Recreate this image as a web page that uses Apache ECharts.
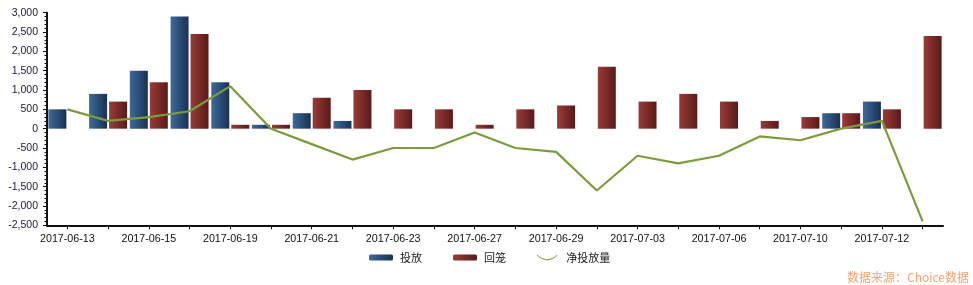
<!DOCTYPE html>
<html>
<head>
<meta charset="utf-8">
<script src="https://cdn.jsdelivr.net/npm/echarts@6/dist/echarts.min.js"></script>
<style>
html,body{margin:0;padding:0;background:#fff;}
#chart{width:973px;height:285px;}
</style>
</head>
<body>
<div id="chart"></div>
<script>
const categories = ['2017-06-13','2017-06-14','2017-06-15','2017-06-16','2017-06-19','2017-06-20','2017-06-21','2017-06-22','2017-06-23','2017-06-26','2017-06-27','2017-06-28','2017-06-29','2017-06-30','2017-07-03','2017-07-05','2017-07-06','2017-07-07','2017-07-10','2017-07-11','2017-07-12','2017-07-13'];
const injection = [500,900,1500,2900,1200,100,400,200,0,0,0,0,0,0,0,0,0,0,0,400,700,0];
const withdrawal = [0,700,1200,2450,100,100,800,1000,500,500,100,500,600,1600,700,900,700,200,300,400,500,2400];
const netInjection = [500,200,300,450,1100,0,-400,-800,-500,-500,-100,-500,-600,-1600,-700,-900,-700,-200,-300,0,200,-2400];
const yTicks = {min:-2500, max:3000, interval:500};
const legendNames = ['投放','回笼','净投放量'];
const sourceText = '数据来源：Choice数据';

const chart = echarts.init(document.getElementById('chart'), null, {renderer:'canvas'});
const blueGrad = new echarts.graphic.LinearGradient(0,0,1,0,[{offset:0,color:'#3c6a9c'},{offset:1,color:'#1b3150'}]);
const redGrad = new echarts.graphic.LinearGradient(0,0,1,0,[{offset:0,color:'#9c3b37'},{offset:1,color:'#561b1b'}]);
const font = '"Liberation Sans", Arial, sans-serif';
chart.setOption({
  animation:false,
  grid:{left:47,right:30,top:12.7,bottom:59.7,containLabel:false},
  legend:{
    data:[
      {name:legendNames[0]},
      {name:legendNames[1]},
      {name:legendNames[2], icon:'path://M0,0 Q12,11 24,0 L24,1.6 Q12,12.6 0,1.6 Z'}
    ],
    left:369, top:252, padding:0,
    itemWidth:24, itemHeight:6, itemGap:31,
    textStyle:{fontSize:11, color:'#222', fontFamily:'"Noto Sans CJK SC", sans-serif', padding:[0,0,0,2]}
  },
  graphic:[{
    type:'text', right:4, top:271,
    style:{text:sourceText, fill:'#f5a36e', fontSize:12, fontFamily:'"Noto Sans CJK SC", sans-serif'}
  }],
  xAxis:{
    type:'category', data:categories,
    axisLine:{onZero:false, lineStyle:{color:'#111', width:2}},
    axisTick:{show:true, alignWithLabel:true, interval:0, length:4, lineStyle:{color:'#111'}},
    axisLabel:{interval:1, margin:8, fontSize:10.7, color:'#111', fontFamily:font},
    splitLine:{show:false}
  },
  yAxis:{
    type:'value', min:yTicks.min, max:yTicks.max, interval:yTicks.interval,
    axisLine:{show:true, lineStyle:{color:'#111', width:2}},
    axisTick:{show:true, length:4, lineStyle:{color:'#111'}},
    minorTick:{show:true, splitNumber:5, length:2.5, lineStyle:{color:'#111'}},
    axisLabel:{margin:9, fontSize:10.5, color:'#1a1a3a', fontFamily:font,
      formatter:v=>v.toLocaleString('en-US')},
    splitLine:{show:false}
  },
  series:[
    {name:legendNames[0], type:'bar', data:injection, barWidth:18, barGap:'11%', itemStyle:{color:blueGrad}},
    {name:legendNames[1], type:'bar', data:withdrawal, barWidth:18, barGap:'11%', itemStyle:{color:redGrad}},
    {name:legendNames[2], type:'line', data:netInjection, symbol:'none', z:5,
      lineStyle:{color:'#7c9c3c', width:2.2}, itemStyle:{color:'#8fab55'}}
  ]
});
</script>
</body>
</html>
